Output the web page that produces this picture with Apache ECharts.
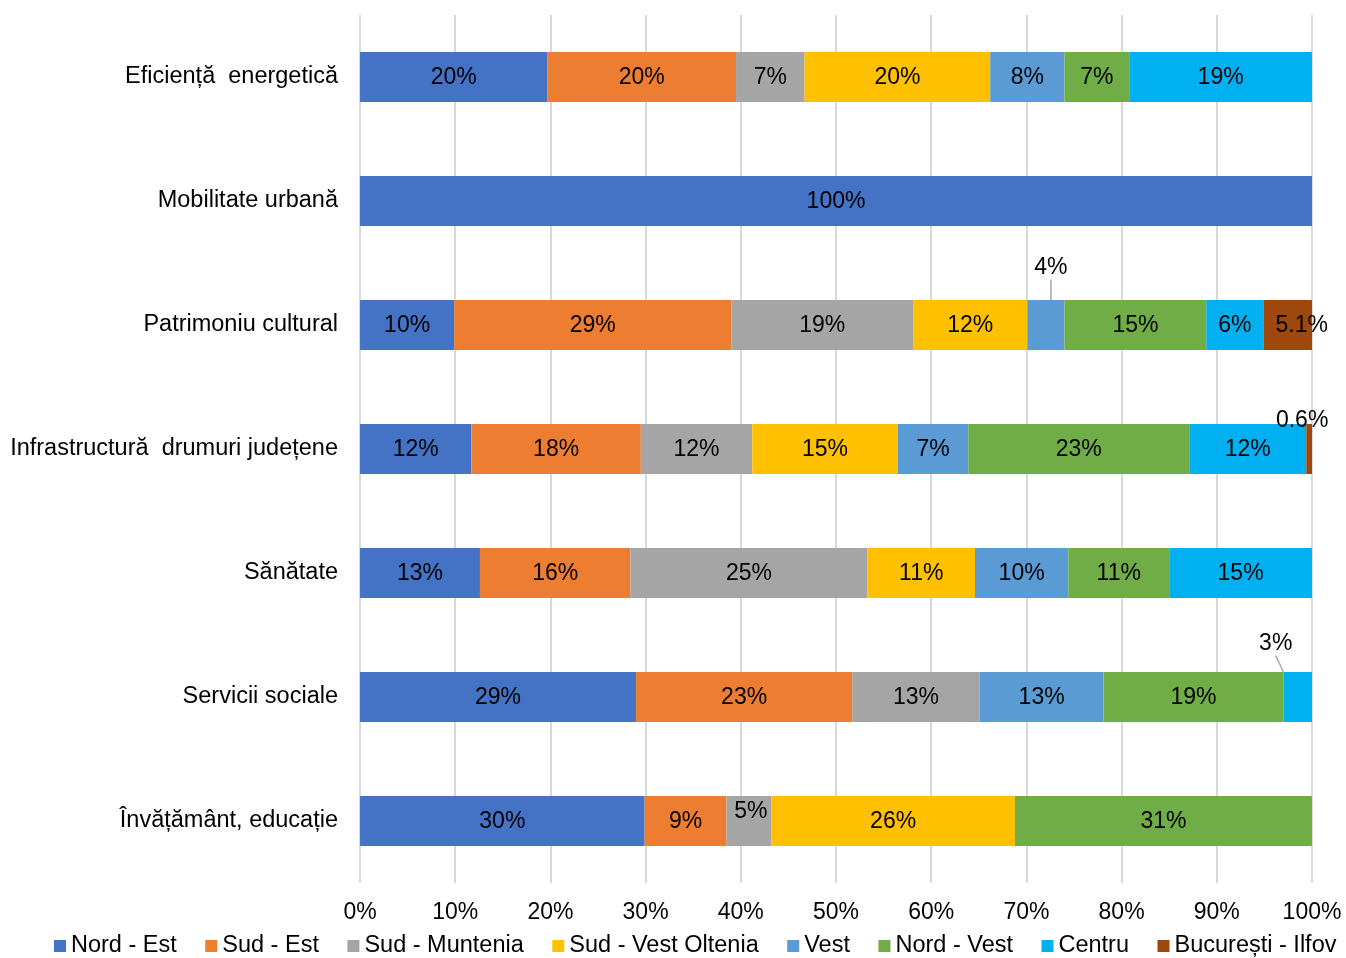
<!DOCTYPE html>
<html>
<head>
<meta charset="utf-8">
<script src="https://cdn.jsdelivr.net/npm/echarts@6/dist/echarts.min.js"></script>
<style>
html,body{margin:0;padding:0;background:#fff;}
#chart{width:1346px;height:958px;}
</style>
</head>
<body>
<div id="chart"></div>
<script>
const categories = ['Eficiență  energetică', 'Mobilitate urbană', 'Patrimoniu cultural', 'Infrastructură  drumuri județene', 'Sănătate', 'Servicii sociale', 'Învățământ, educație'];
const seriesNames = ['Nord - Est', 'Sud - Est', 'Sud - Muntenia', 'Sud - Vest Oltenia', 'Vest', 'Nord - Vest', 'Centru', 'București - Ilfov'];
const nordEst      = [19.7, 100, 9.9, 11.7, 12.6, 29.0, 29.9];
const sudEst       = [19.8, null, 29.1, 17.8, 15.8, 22.7, 8.6];
const sudMuntenia  = [7.2, null, 19.1, 11.7, 24.9, 13.4, 4.7];
const sudVestOlt   = [19.5, null, 12.0, 15.3, 11.3, null, 25.6];
const vest         = [7.8, null, 3.9, 7.4, 9.8, 13.0, null];
const nordVest     = [6.8, null, 14.9, 23.2, 10.6, 18.9, 31.2];
const centru       = [19.2, null, 6.0, 12.3, 15.0, 3.0, null];
const bucurestiIlfov = [null, null, 5.1, 0.6, null, null, null];
const xTicks = [0, 10, 20, 30, 40, 50, 60, 70, 80, 90, 100];

const colors = ['#4472C4', '#ED7D31', '#A5A5A5', '#FFC000', '#5B9BD5', '#70AD47', '#00B0F0', '#9E480E'];
const allData = [nordEst, sudEst, sudMuntenia, sudVestOlt, vest, nordVest, centru, bucurestiIlfov];
const FONT = 'Liberation Sans, Arial, sans-serif';

// label offsets for small segments [seriesIndex, dataIndex, dx, dy, line]
const moved = [
  [4, 2, 5, -58, true],
  [6, 5, -22, -54, true],
  [7, 3, -7, -29, false],
  [7, 2, 14, 0, false],
  [2, 6, 2, -10, false]
];

const series = allData.map((arr, si) => ({
  name: seriesNames[si],
  type: 'bar',
  stack: 'total',
  barWidth: 50,
  itemStyle: { color: colors[si] },
  label: {
    show: true,
    position: 'inside',
    color: '#000',
    fontFamily: FONT,
    fontSize: 23,
    formatter: p => p.value == null ? '' : (si === 7 ? p.value.toFixed(1) + '%' : Math.round(p.value) + '%')
  },
  labelLine: { show: false, lineStyle: { color: '#A6A6A6', width: 1.5 } },
  data: arr.map((v, di) => {
    const m = moved.find(x => x[0] === si && x[1] === di);
    if (m && m[4]) return { value: v, labelLine: { show: true, length2: 0, lineStyle: { color: '#A6A6A6', width: 1.5 } } };
    return v;
  }),
  labelLayout: p => {
    const m = moved.find(x => x[0] === p.seriesIndex && x[1] === p.dataIndex);
    if (m) return { dx: m[2], dy: m[3] + 1 };
    return { dy: 1 };
  }
}));

const chart = echarts.init(document.getElementById('chart'));
chart.setOption({
  animation: false,
  color: colors,
  textStyle: { fontFamily: FONT },
  grid: { left: 360, right: 34, top: 15, bottom: 75, containLabel: false },
  xAxis: {
    type: 'value',
    min: 0, max: 100, interval: 10,
    axisLine: { show: false },
    axisTick: { show: false },
    splitLine: { show: true, lineStyle: { color: '#D9D9D9', width: 2 } },
    axisLabel: { formatter: '{value}%', color: '#000', fontSize: 23, fontFamily: FONT, margin: 18 }
  },
  yAxis: {
    type: 'category',
    data: categories,
    inverse: true,
    axisLine: { show: false },
    axisTick: { show: false },
    axisLabel: { color: '#000', fontSize: 23.5, fontFamily: FONT, margin: 22 }
  },
  legend: {
    top: 934,
    left: 54,
    width: 1292,
    padding: 0,
    icon: 'rect',
    itemWidth: 12,
    itemHeight: 12,
    itemGap: 28.5,
    textStyle: { color: '#000', fontSize: 23.5, fontFamily: FONT },
    data: seriesNames
  },
  series: series
});
</script>
</body>
</html>
